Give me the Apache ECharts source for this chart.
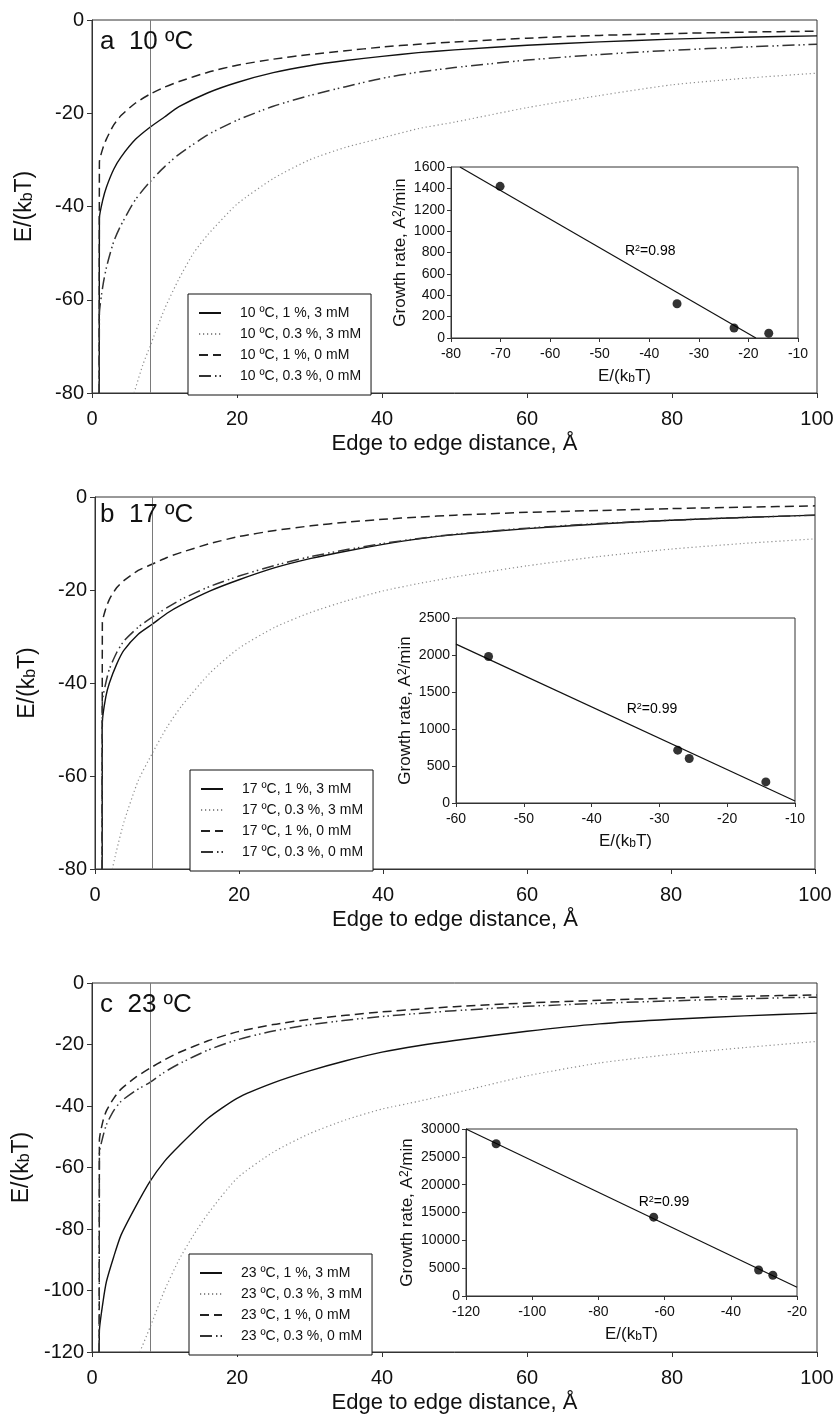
<!DOCTYPE html>
<html><head><meta charset="utf-8">
<script src="https://cdn.jsdelivr.net/npm/echarts@6/dist/echarts.min.js"></script>
<style>html,body{margin:0;padding:0;background:#fff}#c{width:839px;height:1419px}</style>
</head><body><div id="c"></div>
<script>
// ---------- DATA ----------
const xTicksMain = [0, 20, 40, 60, 80, 100];
const refDistance = 8; // vertical reference line (Å)

// Panel a, 10 ºC : [distance Å, E/(kbT)]
const a_1_3 = [[1,-80],[1.02,-42.5],[1.5,-38.5],[2,-35.8],[3,-32],[4,-29.4],[6,-25.6],[8,-23],[10,-20.8],[12,-18.6],[16,-15.6],[20,-13.4],[25,-11.3],[30,-9.8],[35,-8.7],[40,-7.8],[45,-7.0],[50,-6.4],[60,-5.4],[70,-4.7],[80,-4.1],[90,-3.7],[100,-3.4]];
const a_03_3 = [[5.8,-80],[7,-74],[8,-70],[10,-62],[12,-55.5],[14,-50],[16,-46],[20,-39.5],[25,-34],[30,-30],[35,-27.3],[40,-25.3],[45,-23.3],[50,-21.9],[60,-18.8],[70,-16.2],[80,-13.9],[90,-12.5],[100,-11.4]];
const a_1_0 = [[1,-80],[1.02,-30.5],[1.5,-27.5],[2,-25.5],[3,-22.5],[4,-20.5],[6,-17.8],[8,-15.9],[10,-14.4],[12,-13.2],[16,-11.2],[20,-9.7],[25,-8.4],[30,-7.4],[35,-6.6],[40,-5.8],[45,-5.2],[50,-4.7],[60,-3.9],[70,-3.3],[80,-2.9],[90,-2.6],[100,-2.4]];
const a_03_0 = [[1,-80],[1.02,-63],[1.5,-57],[2,-53],[3,-47.5],[4,-44],[6,-38.5],[8,-34.7],[10,-31.5],[12,-28.8],[16,-24.6],[20,-21.5],[25,-18.5],[30,-16.2],[35,-14.3],[40,-12.5],[45,-11.2],[50,-10.2],[60,-8.6],[70,-7.4],[80,-6.5],[90,-5.8],[100,-5.2]];

// Panel b, 17 ºC
const b_1_3 = [[1,-80],[1.02,-48.5],[1.5,-43],[2,-40],[3,-36],[4,-33],[6,-29.5],[8,-27.3],[10,-25],[12,-23.2],[16,-20.2],[20,-17.8],[25,-15.2],[30,-13.2],[35,-11.6],[40,-10.2],[45,-9.0],[50,-8.1],[60,-6.8],[70,-5.8],[80,-5.0],[90,-4.4],[100,-3.9]];
const b_03_3 = [[2.4,-80],[3,-76],[4,-70],[6,-61],[8,-55],[10,-49.5],[12,-45],[16,-37.8],[20,-32.5],[25,-28],[30,-24.8],[35,-22.3],[40,-20.2],[45,-18.6],[50,-17.2],[60,-14.8],[70,-12.8],[80,-11.2],[90,-10],[100,-9]];
const b_1_0 = [[1,-80],[1.02,-27],[1.5,-24],[2,-22],[3,-19.5],[4,-18],[6,-15.8],[8,-14.4],[10,-13],[12,-11.9],[16,-10],[20,-8.5],[25,-7.2],[30,-6.2],[35,-5.4],[40,-4.8],[45,-4.3],[50,-3.9],[60,-3.3],[70,-2.9],[80,-2.5],[90,-2.2],[100,-1.9]];
const b_03_0 = [[1,-80],[1.02,-44],[1.5,-40],[2,-37],[3,-33.5],[4,-31],[6,-28],[8,-25.8],[10,-23.8],[12,-22],[16,-19.2],[20,-17],[25,-14.7],[30,-12.8],[35,-11.3],[40,-10],[45,-8.9],[50,-8.0],[60,-6.7],[70,-5.7],[80,-5.0],[90,-4.4],[100,-3.9]];

// Panel c, 23 ºC
const c_1_3 = [[1,-120],[1.02,-113],[1.5,-104],[2,-97],[3,-89],[4,-82],[6,-72.8],[8,-64.5],[10,-58],[12,-53],[16,-44],[20,-37.5],[25,-32.5],[30,-28.6],[35,-25.3],[40,-22.5],[45,-20.4],[50,-18.7],[60,-15.7],[70,-13.3],[80,-11.8],[90,-10.7],[100,-9.8]];
const c_03_3 = [[6.6,-120],[8,-112],[10,-100],[12,-90],[14,-82],[16,-75],[20,-63.5],[25,-55],[30,-49],[35,-44.5],[40,-41],[45,-38.5],[50,-35.8],[60,-30.2],[70,-26],[80,-23.2],[90,-21],[100,-19]];
const c_1_0 = [[1,-120],[1.02,-51],[1.5,-45],[2,-41.5],[3,-37.5],[4,-34.5],[6,-30.7],[8,-27.7],[10,-25],[12,-22.6],[16,-18.8],[20,-15.9],[25,-13.5],[30,-11.8],[35,-10.5],[40,-9.4],[45,-8.5],[50,-7.7],[60,-6.5],[70,-5.6],[80,-4.9],[90,-4.3],[100,-3.9]];
const c_03_0 = [[1,-120],[1.02,-55.4],[1.5,-50],[2,-46],[3,-41.5],[4,-38.5],[6,-35],[8,-32.3],[10,-29],[12,-26.3],[16,-21.8],[20,-18.5],[25,-15.6],[30,-13.6],[35,-12.1],[40,-10.9],[45,-9.9],[50,-9.0],[60,-7.6],[70,-6.6],[80,-5.8],[90,-5.1],[100,-4.6]];

// Insets: energy vs growth rate
const insA_E = [-70.1, -34.4, -22.9, -15.9];
const insA_rate = [1419, 321, 94, 44];
const insA_fit = [[-78.2, 1600], [-18.5, 0]];
const insA_r2 = [-39.8, 820];

const insB_E = [-55.2, -27.3, -25.6, -14.3];
const insB_rate = [1980, 714, 601, 285];
const insB_fit = [[-60, 2147], [-10, 27]];
const insB_r2 = [-31.1, 1280];

const insC_E = [-110.9, -63.3, -31.6, -27.3];
const insC_rate = [27360, 14160, 4680, 3720];
const insC_fit = [[-120, 30000], [-20, 1560]];
const insC_r2 = [-60.2, 17000];

// ---------- CHART ----------
const FONT = 'Liberation Sans';
const TXT = '#111';
const styles = {
  solid:   {color:'#111', width:1.4, type:'solid'},
  dotted:  {color:'#8c8c8c', width:1.2, type:[1.2,2.8]},
  dashed:  {color:'#222', width:1.5, type:[9,5]},
  dashdot: {color:'#333', width:1.5, type:[12,4,1.5,3,1.5,4]}
};
const zip = (xs, ys) => xs.map((x, i) => [x, ys[i]]);
const plain = v => String(v);

const grids = [
  {left:92, top:20, width:725, height:373},
  {left:95, top:497, width:720, height:372},
  {left:92, top:983, width:725, height:369},
  {left:451, top:167, width:347, height:171},
  {left:456, top:618, width:339, height:185},
  {left:466, top:1129, width:331, height:167}
].map((g, i) => Object.assign({show:true, borderColor:'#333', borderWidth:1,
  backgroundColor: i >= 3 ? '#fff' : 'transparent', containLabel:false}, g));

const mainX = gi => ({
  gridIndex:gi, type:'value', min:0, max:100, interval:20,
  axisLine:{show:true, onZero:false, lineStyle:{color:'#333', width:1}},
  axisTick:{show:true, inside:false, length:5, lineStyle:{color:'#333'}},
  splitLine:{show:false},
  axisLabel:{fontFamily:FONT, fontSize:20, color:TXT, margin:16},
  name:'Edge to edge distance, Å', nameLocation:'middle', nameGap:40,
  nameTextStyle:{fontFamily:FONT, fontSize:22, color:TXT}
});
const mainY = (gi, min) => ({
  gridIndex:gi, type:'value', min:min, max:0, interval:20,
  axisLine:{show:true, onZero:false, lineStyle:{color:'#333', width:1}},
  axisTick:{show:true, inside:false, length:5, lineStyle:{color:'#333'}},
  splitLine:{show:false},
  axisLabel:{fontFamily:FONT, fontSize:20, color:TXT, margin:8},
  name:'E/(k{s|b}T)', nameLocation:'middle', nameRotate:90, nameGap:56,
  nameTextStyle:{fontFamily:FONT, fontSize:23, color:TXT,
    rich:{s:{fontFamily:FONT, fontSize:16, color:TXT, verticalAlign:'bottom', lineHeight:10}}}
});
const insX = (gi, min, max, interval) => ({
  gridIndex:gi, type:'value', min, max, interval,
  axisLine:{show:true, onZero:false, lineStyle:{color:'#333', width:1}},
  axisTick:{show:true, inside:false, length:4, lineStyle:{color:'#333'}},
  splitLine:{show:false},
  axisLabel:{fontFamily:FONT, fontSize:14, color:TXT, margin:9},
  name:'E/(k{s|b}T)', nameLocation:'middle', nameGap:30,
  nameTextStyle:{fontFamily:FONT, fontSize:17, color:TXT,
    rich:{s:{fontFamily:FONT, fontSize:12, color:TXT, verticalAlign:'bottom', lineHeight:8}}}
});
const insY = (gi, max, interval, gap) => ({
  gridIndex:gi, type:'value', min:0, max, interval,
  axisLine:{show:true, onZero:false, lineStyle:{color:'#333', width:1}},
  axisTick:{show:true, inside:false, length:4, lineStyle:{color:'#333'}},
  splitLine:{show:false},
  axisLabel:{fontFamily:FONT, fontSize:14, color:TXT, margin:6, formatter:plain},
  name:'Growth rate, A{p|2}/min', nameLocation:'middle', nameRotate:90, nameGap:gap,
  nameTextStyle:{fontFamily:FONT, fontSize:17, color:TXT,
    rich:{p:{fontFamily:FONT, fontSize:12, color:TXT, verticalAlign:'top', lineHeight:8}}}
});

const xAxis = [mainX(0), mainX(1), mainX(2), insX(3,-80,-10,10), insX(4,-60,-10,10), insX(5,-120,-20,20)];
const yAxis = [mainY(0,-80), mainY(1,-80), mainY(2,-120), insY(3,1600,200,42), insY(4,2500,500,42), insY(5,30000,5000,50)];

const series = [];
function mainLine(name, data, st, gi, withRef) {
  const s = {
    type:'line', name, data, xAxisIndex:gi, yAxisIndex:gi,
    showSymbol:false, symbol:'none', smooth:0.2, clip:true,
    lineStyle:Object.assign({}, styles[st]), itemStyle:{color:styles[st].color}, z:3
  };
  if (withRef) s.markLine = {silent:true, symbol:'none', label:{show:false},
    lineStyle:{color:'#7a7a7a', width:1, type:'solid'}, data:[{xAxis:refDistance}]};
  series.push(s);
}
const panels = [
  ['10', [a_1_3, a_03_3, a_1_0, a_03_0]],
  ['17', [b_1_3, b_03_3, b_1_0, b_03_0]],
  ['23', [c_1_3, c_03_3, c_1_0, c_03_0]]
];
const conds = [['1 %, 3 mM','solid'],['0.3 %, 3 mM','dotted'],['1 %, 0 mM','dashed'],['0.3 %, 0 mM','dashdot']];
const legendNames = [];
panels.forEach(([t, sets], gi) => {
  const names = [];
  sets.forEach((d, k) => {
    const nm = t + ' ºC, ' + conds[k][0];
    names.push(nm);
    mainLine(nm, d, conds[k][1], gi, k === 0);
  });
  legendNames.push(names);
});

function inset(gi, E, R, fit, r2pos, r2txt) {
  series.push({type:'line', data:fit, xAxisIndex:gi, yAxisIndex:gi, symbol:'none',
    lineStyle:{color:'#111', width:1.2}, z:4, silent:true});
  series.push({type:'scatter', data:zip(E, R), xAxisIndex:gi, yAxisIndex:gi,
    symbol:'circle', symbolSize:9, itemStyle:{color:'#000'}, z:5});
  series.push({type:'scatter', data:[r2pos], xAxisIndex:gi, yAxisIndex:gi, symbolSize:1, z:6,
    silent:true, itemStyle:{color:'rgba(0,0,0,0)'},
    label:{show:true, position:'top', distance:-8, formatter:'R{p|2}=' + r2txt,
      fontFamily:FONT, fontSize:14, color:'#000', opacity:1,
      rich:{p:{fontFamily:FONT, fontSize:9, color:'#000', verticalAlign:'top', lineHeight:6}}}});
}
inset(3, insA_E, insA_rate, insA_fit, insA_r2, '0.98');
inset(4, insB_E, insB_rate, insB_fit, insB_r2, '0.99');
inset(5, insC_E, insC_rate, insC_fit, insC_r2, '0.99');

const legendTops = [[188,294],[190,770],[189,1254]];
const legend = legendNames.map((names, i) => ({
  orient:'vertical', left:legendTops[i][0], top:legendTops[i][1], data:names,
  selectedMode:false, padding:[12,10,12,10], itemWidth:22, itemHeight:12, itemGap:7,
  borderColor:'#111', borderWidth:1, backgroundColor:'#fff', z:10,
  itemStyle:{opacity:0},
  textStyle:{fontFamily:FONT, fontSize:14, color:TXT, padding:[0,0,0,14]}
}));

const title = [['a  10 ºC', 29], ['b  17 ºC', 502], ['c  23 ºC', 992]].map(([t, top]) => ({
  text:t, left:100, top, padding:0,
  textStyle:{fontFamily:FONT, fontSize:26, fontWeight:'normal', color:TXT}
}));

const chart = echarts.init(document.getElementById('c'), null, {renderer:'canvas'});
chart.setOption({
  animation:false, backgroundColor:'#fff',
  title, legend, grid:grids, xAxis, yAxis, series
});
</script></body></html>
